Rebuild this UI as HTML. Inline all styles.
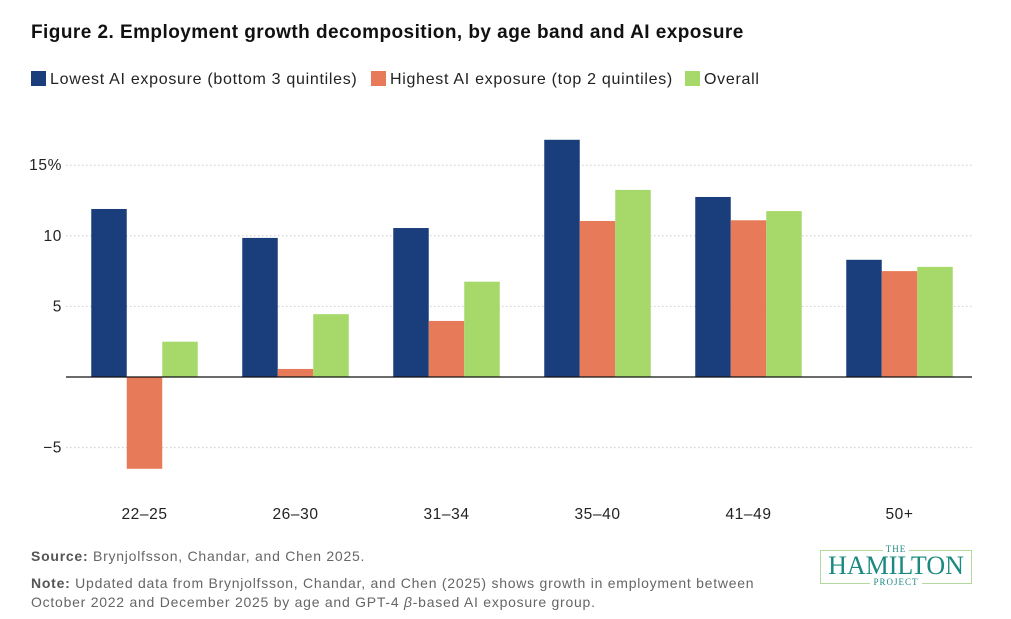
<!DOCTYPE html>
<html><head><meta charset="utf-8"><style>
body{margin:0;background:#fff;width:1011px;height:619px;overflow:hidden;font-family:"Liberation Sans",sans-serif;position:relative}
.t{position:absolute;white-space:nowrap}
</style></head><body>
<div class="t" style="left:31px;top:22px;font-size:19px;font-weight:bold;color:#111;letter-spacing:0.45px">Figure 2. Employment growth decomposition, by age band and AI exposure</div>
<div style="position:absolute;left:31px;top:71px;font-size:16px;color:#222;letter-spacing:0.7px">
<span style="position:absolute;left:0;top:0;white-space:nowrap"><span style="display:inline-block;width:15px;height:15px;background:#1a3d7c;vertical-align:-2px;margin-right:4px"></span>Lowest AI exposure (bottom 3 quintiles)</span>
<span style="position:absolute;left:340px;top:0;white-space:nowrap"><span style="display:inline-block;width:15px;height:15px;background:#e77a58;vertical-align:-2px;margin-right:4px"></span>Highest AI exposure (top 2 quintiles)</span>
<span style="position:absolute;left:654px;top:0;white-space:nowrap"><span style="display:inline-block;width:15px;height:15px;background:#a6d96a;vertical-align:-2px;margin-right:4px"></span>Overall</span>
</div>
<svg id="chart" width="1011" height="619" style="position:absolute;left:0;top:0"></svg>
<div class="t" style="left:31px;top:548px;font-size:14px;color:#666;letter-spacing:0.75px"><b style="color:#555">Source:</b> Brynjolfsson, Chandar, and Chen 2025.</div>
<div class="t" style="left:31px;top:574px;font-size:14px;color:#666;line-height:19px;letter-spacing:0.75px"><b style="color:#555">Note:</b> Updated data from Brynjolfsson, Chandar, and Chen (2025) shows growth in employment between<br>October 2022 and December 2025 by age and GPT-4 <i>β</i>-based AI exposure group.</div>
<div style="position:absolute;left:820px;top:550px;width:150px;height:32px;border:1px solid #b5d99c">
<div class="t" style="left:0;width:150px;text-align:center;top:-7px;font-family:'Liberation Serif',serif;font-size:9px;color:#1a8a80;letter-spacing:1px"><span style="background:#fff;padding:0 3px">THE</span></div>
<div class="t" style="left:0;width:150px;text-align:center;top:2px;font-family:'Liberation Serif',serif;font-size:26px;color:#1a8a80;line-height:26px">HAMILTON</div>
<div class="t" style="left:0;width:150px;text-align:center;top:26px;font-family:'Liberation Serif',serif;font-size:9px;color:#1a8a80;letter-spacing:1px"><span style="background:#fff;padding:0 3px">PROJECT</span></div>
</div>
<script>
const categories=["22–25","26–30","31–34","35–40","41–49","50+"];
const lowest=[11.9,9.85,10.55,16.8,12.75,8.3];
const highest=[-6.5,0.57,3.97,11.05,11.1,7.5];
const overall=[2.5,4.45,6.75,13.25,11.75,7.8];
const yTicks=[-5,5,10,15];
const yTickLabels=["−5","5","10","15%"];
const NS="http://www.w3.org/2000/svg";
const svg=document.getElementById('chart');
const x0=66,x1=972,y0px=377,pxPerUnit=14.12;
const y=v=>y0px-v*pxPerUnit;
const gw=(x1-x0)/categories.length;
function mk(t,a){const e=document.createElementNS(NS,t);for(const k in a)e.setAttribute(k,a[k]);svg.appendChild(e);return e;}
yTicks.forEach((v,i)=>{
 const l=mk('line',{x1:x0,x2:x1,y1:y(v),y2:y(v),stroke:'#ccc','stroke-dasharray':'1.5,2.5'});
 
 
 const t=mk('text',{x:62,y:y(v)+5,'text-anchor':'end','font-size':'15.5','fill':'#222','font-family':'Liberation Sans','letter-spacing':'0.6'});
 t.textContent=yTickLabels[i];
 
 
});
const series=[[lowest,'#1a3d7c','lowest'],[highest,'#e77a58','highest'],[overall,'#a6d96a','overall']];
const bw=35.5;
categories.forEach((c,i)=>{
 const cx=x0+gw*i+gw/2+3;
 series.forEach(([arr,col,nm],j)=>{
  const v=arr[i];const bx=cx-1.5*bw+j*bw;
  const r=mk('rect',{x:bx,y:Math.min(y(v),y(0)),width:bw,height:Math.abs(y(v)-y(0)),fill:col});
  
  
 });
 const t=mk('text',{x:cx,y:519,'text-anchor':'middle','font-size':'15.5','fill':'#222','font-family':'Liberation Sans','letter-spacing':'0.6'});
 t.textContent=c;
 
 
});
const ax=mk('line',{x1:x0,x2:x1,y1:y(0),y2:y(0),stroke:'#111','stroke-width':1.2});


</script>
</body></html>
